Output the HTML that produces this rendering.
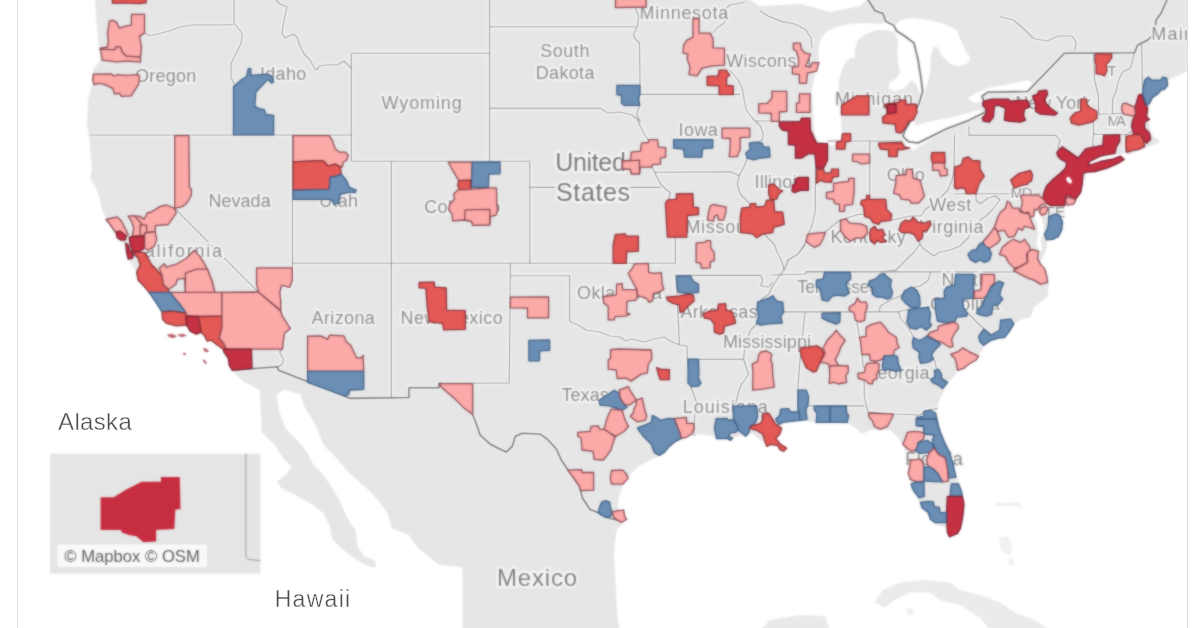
<!DOCTYPE html>
<html><head><meta charset="utf-8"><title>Map</title>
<style>
html,body{margin:0;padding:0;background:#fff;}
body{width:1200px;height:628px;overflow:hidden;position:relative;font-family:"Liberation Sans",sans-serif;}
svg{position:absolute;left:0;top:0;display:block}
#m{filter:url(#soft)}
.lb{font-family:"Liberation Sans",sans-serif;fill:#8a8a8a;stroke:#f6f6f6;stroke-width:3.6px;paint-order:stroke;stroke-linejoin:round}
.st{fill:none;stroke:#969696;stroke-width:1.15;stroke-linejoin:round}
.ib,.ib path{fill:none;stroke:#747474;stroke-width:1.6;stroke-linejoin:round}
.sc{fill:none;stroke:#f9f9f9;stroke-width:4;stroke-linejoin:round}
.r1{fill:#fbaaa8;stroke:#8c4c55}.r2{fill:#e45855;stroke:#8c3239}.r3{fill:#c53043;stroke:#7c2231}.b{fill:#6b8eb5;stroke:#406086}
.is{fill:#b04a5a;stroke:none;fill-opacity:.85}
.pg path{stroke-width:1.3;stroke-linejoin:round}
</style></head><body>
<svg width="1200" height="628" viewBox="0 0 1200 628">

<defs><filter id="soft" x="-10" y="-10" width="1220" height="648" filterUnits="userSpaceOnUse" color-interpolation-filters="sRGB"><feGaussianBlur in="SourceGraphic" stdDeviation="0.85" result="b"/><feComposite in="SourceGraphic" in2="b" operator="arithmetic" k1="0" k2="0.35" k3="0.65" k4="0"/></filter></defs>
<g id="m">
<rect x="17" y="-10" width="1170.5" height="648" fill="#e6e6e6"/>
<g fill="#fff">
<path d="M17,-5 95,-5 95,0 96,18 99,50 100,60 93,70 92,85 88,100 87,126 89,135 92,168 90,178 96,188 100,200 102,210 106,218 112,230 116,236 124,245 128,259 136.6,272 144,286 149,292.7 157,304 162,312 162.5,319 166,323 176,325.8 186.6,325 190,331 196,334 204,335 207,341 211,340 216,344 223,349 228,358 229,365 232,370.7 242.7,381.3 259.7,389.9 261.9,432.5 274.7,445.3 283.2,458 291.7,466.7 285.3,475.2 276.8,481.6 281,488 298,496.5 313,505 323.7,513.6 330,526.4 332.3,539.2 340.8,547.7 351.5,556.3 362,562.7 370.7,567 462.5,567 462.5,640 17,640Z"/>
<path d="M276.8,394 284,390 300.3,394 304.5,407 315,424 323.7,445 336.5,458 349,473 366.4,488 379,501 387.7,513.6 392,528.5 409,535 417.6,547.7 439,564.8 460,567 460,572 377,572 375,560.5 364.3,556.3 357.9,547.7 355.7,530.7 347.2,517.9 340.8,503 332.3,488 323.7,475.2 313,464.5 306.7,451.7 298,441 285.3,428.3 279,411Z"/>
<path d="M1190,70 1168,80 1164.5,90 1151,100 1148,114 1151,134 1161,142 1148,147 1131,154 1121,157 1101,164 1087.6,170.5 1084,180.6 1081,194 1075.7,200 1073.7,204 1067.7,205 1062.6,210 1062.6,222 1061.6,230 1058.6,236 1052.6,239 1046.6,240 1047.6,246 1044.6,254 1040.6,262 1044.6,268 1048,276 1049,283.6 1047.5,297 1034,307 1030.7,317 1020,320 1013.8,324 1008.8,332 1004.8,337 996.7,340 990.7,342 984.7,346 980.7,352 975.7,360 968.6,364 963.6,368 957.6,370 954.6,376 948.6,382 946.6,386 940.6,398 936.5,408 938.5,422 940.4,430 949.4,452 955.4,472 960.4,486 964.4,500 963.4,520 958.4,534.4 948.4,536.8 946.4,528.4 932.3,522.4 928.3,516.3 920.3,504.3 916.3,496.3 910.2,484.2 908.2,472.2 905.2,456 904.2,446 898.4,438 890.4,430 880,430 870,430 862,434 856,428 846,422.7 820,422.7 806,421.3 800,420 782,424 776,440 784,451 786.8,449 770.7,445 764.7,444 752.7,434 748.6,433 740.6,436 732.6,438 726.6,439 716.5,439 714.5,436 700,434 690,436 681,439 670,446 659,456 650.8,460 638.8,466 628.7,476 622.7,486 618.7,498 617.7,508 625.7,517 622.7,524 616.7,530 614.7,544 614,552 615.7,585 617,612 620.7,640 1190,640Z"/>
<path d="M820.1,40.1 826.1,32.1 836.1,27.1 850.2,24.1 864.2,23.1 880.3,24.1 888.3,22.1 894.3,26.1 894.3,32.1 886.3,30.1 876.3,30.1 866.2,34.1 858.2,40.1 855.2,48.2 854.2,58.2 851.2,57.2 847.2,60.2 842.5,68.2 839.5,78.3 838.5,88.3 839.5,100.3 840.5,112.4 841.5,128.4 843.1,140.5 840.1,144.5 830.1,145.5 822.1,143.5 816.1,138.5 814,128.4 813,112.4 812.4,100.3 812,90.3 814,80.3 816.1,68.2 819.1,60.2 818.1,50.2Z"/>
<path d="M894.3,26.1 900.3,20.1 912.4,18.1 928.4,20.1 944.5,24.1 956.5,30.1 960.5,40.1 966.6,52.2 970.6,58.2 966.6,64.2 958.5,66.2 950.5,64.2 944.5,58.2 940.5,54.2 938.5,48.2 934.4,46.2 931.4,52.2 930.4,60.2 930.4,70.2 928.4,80.3 925.4,90.3 922.4,100.3 919.4,108.4 916.4,116.4 913.4,120.4 911.4,116.4 915.4,108.4 918.4,104.3 919.4,92.3 916.4,84.3 912.4,80.3 909.4,82.3 904.3,88.3 894.3,91.3 888.3,88.3 890.3,82.3 896.3,78.3 900.3,72.2 898.3,64.2 897.3,52.2 898.3,40.1 894.3,32.1Z"/>
<path d="M902,134 906,128 920,124 936,120 950,118 964,114 980,110 984,113 976,118 960,124 950,129 940,134 930,140 920,146 914,150 908,148 904,142Z"/>
<path d="M910,120 915,121 914,128 910,129Z"/>
<path d="M968,98 976,93 988,88 1004,85 1020,82 1028.5,80 1032.5,84 1028.5,91 990,91 980,97 982,102 974,103Z"/>
<path d="M745,-5 750,0 760,6 780,5 800,4 820,9 830,12 840,10 850,8 860,6 866,0 866,-5Z"/>
<path d="M1037.5,210 1040.5,216 1043.5,224 1043.5,234 1040.5,240 1042.5,250 1038.5,251 1036.5,242 1038.5,234 1037.5,226 1034.5,218Z"/>
<path d="M1066,205 1068,200 1072,202 1070,207Z"/>
<path d="M1089.6,162.8 1100.3,157.5 1113.6,155 1120.3,154.1 1128,153 1124.3,157 1113.6,159.5 1100.3,162.5 1088.2,166.5Z"/>
</g>
<path d="M875,602.5 882.5,590 900,582.5 925,580 950,582.5 960,590 980,595 1000,602.5 1015,612.5 1035,620 1050,630 990,630 980,617.5 960,605 940,600 930,592.5 910,592.5 895,600 885,607.5Z" fill="#ebebeb"/><path d="M760,630 770,620 800,615 825,616 830,630Z" fill="#e9e9e9"/>
<path d="M1000,537.5 1007.5,536 1012.5,545 1010,555 1002.5,552.5 999,544Z" fill="#f0f0f0"/>
<path d="M1007.5,559 1013,558 1014,565 1009,565Z" fill="#f0f0f0"/>
<path d="M995,503 1020,502 1021,509 1017.5,506 995,506Z" fill="#f0f0f0"/>
<path d="M906,609 912.5,608 914,614 907,615Z" fill="#f0f0f0"/>
<g class="sc">
<path d="M144,33 150,35.5 160,33.5 172,30 180,27 192,25 220,25 233,24.5"/>
<path d="M234,-2 234,23 242.5,33.5 241,43.5 231,63.5 231,77 234,83.5 234,135"/>
<path d="M274,-2 280,4 287,7 285,16 283,26 282,34 285,38 293,34 297,37 300,46 304,54 310,60 315,69 317,70 319,66 326,65 338,64.6 344,61 349,66 351.4,68"/>
<path d="M89,135 351.4,135"/>
<path d="M351.4,53.2 489.6,53.2"/>
<path d="M351.4,53.2 351.4,161.2"/>
<path d="M351.4,161.2 529.7,161.2"/>
<path d="M489.6,-2 489.6,161.2"/>
<path d="M489.6,26.7 635.5,26.7"/>
<path d="M489.6,108.4 600.4,108.4 608,113 620,112 632,115 638,120 640,126 645.5,136 648.5,140 650,150 652.5,168 655.5,174 660.5,184 666.6,190 670.6,193 668.6,198 675.4,202 675.4,263"/>
<path d="M529.7,161.2 529.7,263.1"/>
<path d="M529.7,187.3 660.5,187.3"/>
<path d="M391.4,161.2 391.4,398"/>
<path d="M292.5,135 292.5,263.2"/>
<path d="M292.5,263.2 675.4,263.2"/>
<path d="M174.7,135 174.7,208.3 258.6,292.3 280.7,310.4"/>
<path d="M292.3,263 292.3,280 289.7,287 281.7,285 279.7,292 280.7,300 280.7,310 282.5,316 287.5,324 290.5,328.6 284.5,333 283.5,340 282.5,349 279.5,352 283.5,359 282.5,364 277.5,367"/>
<path d="M439,383.4 509.3,383"/>
<path d="M510.4,263 509.3,383"/>
<path d="M510.4,275.7 569.6,275.7 569.6,321.3 580,326 586,330 600,332 610,336 620,337 626,341 632,339 644,342 654,339 664,337 672,342 680,345 687,346 687.4,359.3 690.5,386 693.5,394 696.5,402 694.5,418 694,436"/>
<path d="M676,275.3 679.5,345"/>
<path d="M687.4,359.3 743.6,359.3"/>
<path d="M676,275.3 760.7,275.3 762.7,280 760.7,286 768.7,287 772.7,282"/>
<path d="M784,270 780.8,274 776.7,280 772.7,286 768.7,294 760.7,300 756.7,324 750.7,330 746.7,340 744.6,350 743.6,359 745.7,366 748.7,374 744.6,380 741.6,384 738.6,392 736.6,400 734.6,406 760,406 762,420 766,432"/>
<path d="M654.5,172.2 730.8,171.8 740,176"/>
<path d="M640,94.3 740,94.3"/>
<path d="M635.5,8 638.5,16 637.5,26 633.5,34 634.5,38 639.5,43 640,85 640,94.3 638.5,100 639.5,106 636.5,114 640.5,122"/>
<path d="M713,33 717,28 723,24 726,20 724,10 730,5 745,2"/>
<path d="M729.8,70 738.2,80 742.2,88 744.2,100 746.2,110 752.3,118 760.3,126 763.3,134 762.3,140 754.3,143 747.2,158 745.2,164 739.2,176 737.2,184 740.2,194 748.2,202 755,212 766,236 774,244 778,254 782,262 784,270"/>
<path d="M756,121 810.5,121"/>
<path d="M815.4,154 815.4,210 812.4,224 808.4,234 804.4,246 798.3,254 788.3,260 784.3,270 788,260 798,254 806,242 820,244 825,232 840,220 860,214 892.7,220 900.7,218 910.7,216 920.8,216 924.8,210 929.8,206 932,204 940,198 948,190 952,180 954,170 954.6,135"/>
<path d="M827.5,141 903,141"/>
<path d="M869.7,141 869.7,206"/>
<path d="M954.6,193.7 1040.5,193.7"/>
<path d="M969,126 969,135.3 1056,135.3 1060,140 1058,148 1064,156"/>
<path d="M976,200 980,204 988,198 996,196 1000,200 992,210 986,216 980,220 978,226 972,230 968,238 964,242 960,246 950,250 940,252 934,256 928,252 923,248 920,244 918,230 920,218"/>
<path d="M976,200 976,194"/>
<path d="M920,244 914,252 904,262 896,270 880,272"/>
<path d="M772,275 806,274 806,271.6 1047,272"/>
<path d="M757,311.8 898,311.8"/>
<path d="M930.5,272.4 928.5,280 920.5,286 910.4,288 900.4,296 890.4,300 880.3,306 879.3,311.8"/>
<path d="M805,312.6 802,340 800,360 797.7,390 798,420"/>
<path d="M855.3,312.6 858.3,330 860.3,340 862.3,356 863.3,370 864.3,386 864.3,396 866.3,406 868.3,412 893.4,414 920.5,415 924.5,411 930,410 938,408"/>
<path d="M808,405.8 864.3,405.8"/>
<path d="M898.4,311.8 900.4,318 908.4,328 913.5,337 920.5,344 928.5,354 934.5,360 936.5,369 942,384"/>
<path d="M898,311.8 910,309 930,307 945,308 955,313 967.6,313 972.7,318 980.7,326 990.7,334 996,340"/>
<path d="M1093.5,53 1094.5,80 1098.5,96 1098.5,114 1093.5,120 1093.5,134 1092.5,148 1086,152"/>
<path d="M1134.4,52.8 1130.6,68 1122.6,72 1118.6,80 1116.5,90 1112.5,100 1112.5,114"/>
<path d="M1141.6,44 1142.6,94 1146,100"/>
<path d="M1098.5,114 1112.5,114 1122.5,113 1132.6,116 1140,112"/>
<path d="M1093.5,134.3 1126.6,134.7 1132,131"/>
<path d="M1125.6,134.7 1125.6,152"/>
<path d="M1000,16.7 1013.4,20 1025,30 1033.4,38.5 1047,41 1058.5,36 1072,36 1076,41.8 1075.2,48.5 1073.5,51"/>
<path d="M760,10.7 768,16 781.4,21.4 794.8,24 805.5,29.4 810.8,37.5 812.2,48.2"/>
<path d="M232.3,370.3 277.5,366.7 278.5,370.3 350.7,398.4 409,397.5 409,387.7 439,387.7 439,383.4 445,384"/>
<path d="M472.6,414.5 477.2,426.2 480.2,435.2 490.2,444.2 500.3,449.3 506.3,451.9 512.3,446.3 515.3,436.2 522.3,433.2 532.4,433.8 540.4,434.2 548.4,440.2 556.5,449.3 561.5,460.3 567.5,469.3 574.5,479.4 579.5,486.4 580.5,490.6 582.5,498.2 586.6,504.2 589.6,509.2 597.6,512.6 605.6,517.3 617.7,520.3 621.7,522.3"/>
<path d="M867,-2 875,10.7 883,13.4 885.8,21.4 893.8,25.4 896.5,30.8 904.5,36 913.8,42.8 917.9,58.9 920.5,75 922.7,91 919.2,103 912.5,117.7 904.5,131 903,136.5 908.5,141.8 917.9,143 931.2,136.5 947.3,128.4 968.7,120.4 982,113.7 987.4,111 982,96.3 987.4,92.3 1027.6,91.5 1064.4,53.2 1134.4,52.8 1137.7,45 1147.8,40 1154.5,33.4 1156,20 1161,13.4 1167.8,-2"/>
</g>
<g class="st">
<path d="M144,33 150,35.5 160,33.5 172,30 180,27 192,25 220,25 233,24.5"/>
<path d="M234,-2 234,23 242.5,33.5 241,43.5 231,63.5 231,77 234,83.5 234,135"/>
<path d="M274,-2 280,4 287,7 285,16 283,26 282,34 285,38 293,34 297,37 300,46 304,54 310,60 315,69 317,70 319,66 326,65 338,64.6 344,61 349,66 351.4,68"/>
<path d="M89,135 351.4,135"/>
<path d="M351.4,53.2 489.6,53.2"/>
<path d="M351.4,53.2 351.4,161.2"/>
<path d="M351.4,161.2 529.7,161.2"/>
<path d="M489.6,-2 489.6,161.2"/>
<path d="M489.6,26.7 635.5,26.7"/>
<path d="M489.6,108.4 600.4,108.4 608,113 620,112 632,115 638,120 640,126 645.5,136 648.5,140 650,150 652.5,168 655.5,174 660.5,184 666.6,190 670.6,193 668.6,198 675.4,202 675.4,263"/>
<path d="M529.7,161.2 529.7,263.1"/>
<path d="M529.7,187.3 660.5,187.3"/>
<path d="M391.4,161.2 391.4,398"/>
<path d="M292.5,135 292.5,263.2"/>
<path d="M292.5,263.2 675.4,263.2"/>
<path d="M174.7,135 174.7,208.3 258.6,292.3 280.7,310.4"/>
<path d="M292.3,263 292.3,280 289.7,287 281.7,285 279.7,292 280.7,300 280.7,310 282.5,316 287.5,324 290.5,328.6 284.5,333 283.5,340 282.5,349 279.5,352 283.5,359 282.5,364 277.5,367"/>
<path d="M439,383.4 509.3,383"/>
<path d="M510.4,263 509.3,383"/>
<path d="M510.4,275.7 569.6,275.7 569.6,321.3 580,326 586,330 600,332 610,336 620,337 626,341 632,339 644,342 654,339 664,337 672,342 680,345 687,346 687.4,359.3 690.5,386 693.5,394 696.5,402 694.5,418 694,436"/>
<path d="M676,275.3 679.5,345"/>
<path d="M687.4,359.3 743.6,359.3"/>
<path d="M676,275.3 760.7,275.3 762.7,280 760.7,286 768.7,287 772.7,282"/>
<path d="M784,270 780.8,274 776.7,280 772.7,286 768.7,294 760.7,300 756.7,324 750.7,330 746.7,340 744.6,350 743.6,359 745.7,366 748.7,374 744.6,380 741.6,384 738.6,392 736.6,400 734.6,406 760,406 762,420 766,432"/>
<path d="M654.5,172.2 730.8,171.8 740,176"/>
<path d="M640,94.3 740,94.3"/>
<path d="M635.5,8 638.5,16 637.5,26 633.5,34 634.5,38 639.5,43 640,85 640,94.3 638.5,100 639.5,106 636.5,114 640.5,122"/>
<path d="M713,33 717,28 723,24 726,20 724,10 730,5 745,2"/>
<path d="M729.8,70 738.2,80 742.2,88 744.2,100 746.2,110 752.3,118 760.3,126 763.3,134 762.3,140 754.3,143 747.2,158 745.2,164 739.2,176 737.2,184 740.2,194 748.2,202 755,212 766,236 774,244 778,254 782,262 784,270"/>
<path d="M756,121 810.5,121"/>
<path d="M815.4,154 815.4,210 812.4,224 808.4,234 804.4,246 798.3,254 788.3,260 784.3,270 788,260 798,254 806,242 820,244 825,232 840,220 860,214 892.7,220 900.7,218 910.7,216 920.8,216 924.8,210 929.8,206 932,204 940,198 948,190 952,180 954,170 954.6,135"/>
<path d="M827.5,141 903,141"/>
<path d="M869.7,141 869.7,206"/>
<path d="M954.6,193.7 1040.5,193.7"/>
<path d="M969,126 969,135.3 1056,135.3 1060,140 1058,148 1064,156"/>
<path d="M976,200 980,204 988,198 996,196 1000,200 992,210 986,216 980,220 978,226 972,230 968,238 964,242 960,246 950,250 940,252 934,256 928,252 923,248 920,244 918,230 920,218"/>
<path d="M976,200 976,194"/>
<path d="M920,244 914,252 904,262 896,270 880,272"/>
<path d="M772,275 806,274 806,271.6 1047,272"/>
<path d="M757,311.8 898,311.8"/>
<path d="M930.5,272.4 928.5,280 920.5,286 910.4,288 900.4,296 890.4,300 880.3,306 879.3,311.8"/>
<path d="M805,312.6 802,340 800,360 797.7,390 798,420"/>
<path d="M855.3,312.6 858.3,330 860.3,340 862.3,356 863.3,370 864.3,386 864.3,396 866.3,406 868.3,412 893.4,414 920.5,415 924.5,411 930,410 938,408"/>
<path d="M808,405.8 864.3,405.8"/>
<path d="M898.4,311.8 900.4,318 908.4,328 913.5,337 920.5,344 928.5,354 934.5,360 936.5,369 942,384"/>
<path d="M898,311.8 910,309 930,307 945,308 955,313 967.6,313 972.7,318 980.7,326 990.7,334 996,340"/>
<path d="M1093.5,53 1094.5,80 1098.5,96 1098.5,114 1093.5,120 1093.5,134 1092.5,148 1086,152"/>
<path d="M1134.4,52.8 1130.6,68 1122.6,72 1118.6,80 1116.5,90 1112.5,100 1112.5,114"/>
<path d="M1141.6,44 1142.6,94 1146,100"/>
<path d="M1098.5,114 1112.5,114 1122.5,113 1132.6,116 1140,112"/>
<path d="M1093.5,134.3 1126.6,134.7 1132,131"/>
<path d="M1125.6,134.7 1125.6,152"/>
<path d="M1000,16.7 1013.4,20 1025,30 1033.4,38.5 1047,41 1058.5,36 1072,36 1076,41.8 1075.2,48.5 1073.5,51"/>
<path d="M760,10.7 768,16 781.4,21.4 794.8,24 805.5,29.4 810.8,37.5 812.2,48.2"/>
</g>
<g class="ib">
<path d="M232.3,370.3 277.5,366.7 278.5,370.3 350.7,398.4 409,397.5 409,387.7 439,387.7 439,383.4 445,384"/>
<path d="M472.6,414.5 477.2,426.2 480.2,435.2 490.2,444.2 500.3,449.3 506.3,451.9 512.3,446.3 515.3,436.2 522.3,433.2 532.4,433.8 540.4,434.2 548.4,440.2 556.5,449.3 561.5,460.3 567.5,469.3 574.5,479.4 579.5,486.4 580.5,490.6 582.5,498.2 586.6,504.2 589.6,509.2 597.6,512.6 605.6,517.3 617.7,520.3 621.7,522.3"/>
<path d="M867,-2 875,10.7 883,13.4 885.8,21.4 893.8,25.4 896.5,30.8 904.5,36 913.8,42.8 917.9,58.9 920.5,75 922.7,91 919.2,103 912.5,117.7 904.5,131 903,136.5 908.5,141.8 917.9,143 931.2,136.5 947.3,128.4 968.7,120.4 982,113.7 987.4,111 982,96.3 987.4,92.3 1027.6,91.5 1064.4,53.2 1134.4,52.8 1137.7,45 1147.8,40 1154.5,33.4 1156,20 1161,13.4 1167.8,-2"/>
</g>
<g class="lb">
<text x="134.9" y="82.3" font-size="18" textLength="61.4" lengthAdjust="spacing">Oregon</text>
<text x="260" y="80.3" font-size="18" textLength="46.2" lengthAdjust="spacing">Idaho</text>
<text x="381.5" y="109.4" font-size="18" textLength="80.3" lengthAdjust="spacing">Wyoming</text>
<text x="540.2" y="56.6" font-size="18" textLength="49.2" lengthAdjust="spacing">South</text>
<text x="535.8" y="78.9" font-size="18" textLength="58.6" lengthAdjust="spacing">Dakota</text>
<text x="639.6" y="18.5" font-size="18" textLength="88.6" lengthAdjust="spacing">Minnesota</text>
<text x="726.2" y="67.2" font-size="18" textLength="85" lengthAdjust="spacing">Wisconsin</text>
<text x="834.9" y="104.9" font-size="18" textLength="78.1" lengthAdjust="spacing">Michigan</text>
<text x="1015.2" y="109.2" font-size="18" textLength="76" lengthAdjust="spacing">New York</text>
<text x="1107.5" y="125.8" font-size="15" textLength="18.5" lengthAdjust="spacing">MA</text>
<text x="1098" y="76" font-size="15" textLength="18.5" lengthAdjust="spacing">VT</text>
<text x="1151.3" y="40.1" font-size="18" textLength="54" lengthAdjust="spacing">Maine</text>
<text x="678.6" y="135.7" font-size="18" textLength="39.2" lengthAdjust="spacing">Iowa</text>
<text x="754.6" y="187.7" font-size="18" textLength="51" lengthAdjust="spacing">Illinois</text>
<text x="886.7" y="180.5" font-size="18" textLength="38.1" lengthAdjust="spacing">Ohio</text>
<text x="685.4" y="232.6" font-size="18" textLength="72" lengthAdjust="spacing">Missouri</text>
<text x="830.5" y="243.3" font-size="18" textLength="75.2" lengthAdjust="spacing">Kentucky</text>
<text x="929.2" y="211.2" font-size="18" textLength="42.1" lengthAdjust="spacing">West</text>
<text x="920" y="233.3" font-size="18" textLength="63.4" lengthAdjust="spacing">Virginia</text>
<text x="1010.5" y="198.2" font-size="15" textLength="22" lengthAdjust="spacing">MD</text>
<text x="1047" y="217" font-size="15" textLength="18" lengthAdjust="spacing">DE</text>
<text x="208.4" y="206.7" font-size="18" textLength="62.3" lengthAdjust="spacing">Nevada</text>
<text x="319.2" y="206.7" font-size="18" textLength="38.7" lengthAdjust="spacing">Utah</text>
<text x="424.2" y="213.4" font-size="18" textLength="76" lengthAdjust="spacing">Colorado</text>
<text x="130" y="256.6" font-size="18" textLength="92.1" lengthAdjust="spacing">California</text>
<text x="311.6" y="324.2" font-size="18" textLength="63.2" lengthAdjust="spacing">Arizona</text>
<text x="400.5" y="323.9" font-size="18" textLength="102.3" lengthAdjust="spacing">New Mexico</text>
<text x="577" y="299.1" font-size="18" textLength="85" lengthAdjust="spacing">Oklahoma</text>
<text x="680.4" y="317.8" font-size="18" textLength="77.3" lengthAdjust="spacing">Arkansas</text>
<text x="723" y="347.9" font-size="18" textLength="88" lengthAdjust="spacing">Mississippi</text>
<text x="797" y="293.1" font-size="18" textLength="82" lengthAdjust="spacing">Tennessee</text>
<text x="941.6" y="286" font-size="18" textLength="47" lengthAdjust="spacing">North</text>
<text x="930.1" y="310.2" font-size="18" textLength="69.7" lengthAdjust="spacing">Carolina</text>
<text x="863" y="379.1" font-size="18" textLength="66.5" lengthAdjust="spacing">Georgia</text>
<text x="561.5" y="400.5" font-size="18" textLength="47.2" lengthAdjust="spacing">Texas</text>
<text x="682.8" y="413.3" font-size="18" textLength="85" lengthAdjust="spacing">Louisiana</text>
<text x="905.2" y="464.6" font-size="18" textLength="57.6" lengthAdjust="spacing">Florida</text>
<text x="555.3" y="170.6" font-size="25" textLength="70.5" lengthAdjust="spacing" style="fill:#787878;stroke-width:4.6px">United</text>
<text x="556" y="200.7" font-size="25" textLength="74" lengthAdjust="spacing" style="fill:#787878;stroke-width:4.6px">States</text>
<text x="497" y="586.2" font-size="24" textLength="80.2" lengthAdjust="spacing" style="fill:#808080;stroke-width:4.6px">Mexico</text>
</g>
<g class="pg">
<path class="r2" d="M112.4,-2 146.1,-2 146.1,2.8 138.5,3.6 128.4,3.2 112.4,3.2Z"/>
<path class="r1" d="M131.4,14.4 144.5,14.4 144.5,33.1 139.5,36.1 141.5,47.2 140.5,57.2 126.4,56.2 122.4,52.6 120.4,47.2 116.4,46.6 114.8,49.8 100.3,49.2 100.3,48.2 107.4,47.2 108.4,40.1 107.4,34.1 109.4,21.1 112.4,20.1 116.4,22.1 119.4,28.1 125.4,26.1 131.4,25.1Z"/>
<path class="r1" d="M100.3,49.2 114.8,49.8 116.4,46.6 120.4,47.2 122.4,52.6 126.4,56.2 140.5,57.2 140.5,62.2 128.4,61.2 116.4,61.8 102.3,60.2 101.3,53.2Z"/>
<path class="r1" d="M93.3,74.2 111.4,73.8 113.4,75.9 118.4,74.6 124.4,75.3 138.5,74.6 139.5,77.3 138.5,84.3 133.4,92.3 131.4,95.9 121.4,96.3 119.4,93.3 114.4,93.9 112.8,88.3 104.3,84.3 99.3,83.3 94.3,84.7 92.7,80.3Z"/>
<path class="b" d="M233.4,87 240.8,80.3 246.8,76.3 248.2,68.6 250.8,68.6 250.8,75.3 267.6,74.2 271.6,76.3 273.6,81.9 271.6,82.9 267.6,79.6 255.9,92 254.8,106.4 259.2,108.7 264.2,109.7 265.9,114.4 273.6,115.4 273.6,134.8 233.4,134.8Z"/>
<path class="r1" d="M615.5,-2 646.2,-2 646.2,7 615.5,7.6Z"/>
<path class="b" d="M616.9,85.3 639.9,85.3 639.9,94.3 638.5,98.3 639.9,105.4 624.5,105.4 621.5,103.3 621.5,95.3 616.9,94.7Z"/>
<path class="r1" d="M693,18.5 699.1,18.5 699.1,33.1 710.1,33.1 713.1,39.1 713.1,47.8 724.5,48.2 724.5,65.2 713.1,65.8 702.1,68.2 697.1,75.9 689,74.6 690,67.2 687,58.2 688,54.2 683,53.2 683.6,45.2 687,40.1 693,37.1Z"/>
<path class="r2" d="M707.1,76.3 718.1,75.9 719.1,70.2 726.2,70.2 729.8,75.3 726.6,77.3 726.6,85.3 733.2,85.9 733.2,94.7 719.1,94.7 719.1,85.9 707.1,85.3Z"/>
<path class="r1" d="M793.4,43.1 800.4,43.1 801.4,49.2 805.4,53.2 810.4,54.2 808.4,60.2 805.4,66.2 810.4,67.2 812.4,62.6 818.9,62.6 816.5,71.2 807.4,73.2 806.4,83.3 799.4,83.3 799.4,74.6 792.4,73.8 792.4,67.2 798.4,66.2 798.4,58.2 796.4,51.2 793.4,49.2Z"/>
<path class="r1" d="M771.9,91.3 786.8,91.3 786.8,111.4 779.3,112 779.3,121.4 771.3,121.4 771.3,113.4 758.7,112.8 758.7,103.9 767.3,103.3 771.9,98.3Z"/>
<path class="r1" d="M799.4,93.9 810,93.9 810,112.4 796.4,112.4 796.4,103.3 799.4,102.3Z"/>
<path class="r2" d="M841.5,105.4 854.6,97.3 856.6,95.9 869,95.9 869,114.8 841.5,114.8Z"/>
<path class="r3" d="M779.3,122.1 800.4,121.7 801.4,118.1 810,118.1 810.4,130.1 816.5,143.1 827.5,143.7 827.5,160.2 823.5,168.2 816.5,168.2 814.8,153.8 808.4,153.8 801.4,158.2 795.4,158.2 795.4,145.2 788.4,144.5 788.4,131.1 782.3,130.1 779.3,126.1Z"/>
<path class="r2" d="M816.5,169.2 823.5,169.2 824.5,173.2 831.5,172.6 831.5,169.2 838.5,169.2 838.5,176.3 832.5,177.3 831.5,182.3 824.5,181.9 820.5,180.3 816.5,183.3Z"/>
<path class="r2" d="M842.5,133.7 850.6,133.7 850.6,141.1 845.6,142.1 844.9,149.2 836.5,149.2 836.5,142.1 841.5,141.1Z"/>
<path class="r1" d="M852.6,154.2 869.6,154.2 869.6,163.2 860.6,163.8 857.6,161.8 852.6,161.2Z"/>
<path class="r2" d="M878.7,143.1 901.7,142.5 904.7,147.2 909.8,147.8 900.7,149.8 897.7,149.2 897.1,156.6 888.7,156.6 888.7,149.8 880.7,149.2 878.7,145.2Z"/>
<path class="r1" d="M848.6,178.3 854.2,178.3 854.2,191.3 852.6,204.3 844.5,205.4 844.5,211.4 839.5,211.4 839.5,204.3 834.5,203.3 833.5,199.3 826.5,198.3 826.5,192.3 833.5,191.3 833.5,183.3 840.5,182.3 848.6,181.3Z"/>
<path class="r2" d="M866.6,195.3 869.6,195.3 869.6,199.3 885.7,199.3 886.7,209.4 891.7,214.4 890.7,220.4 880.7,221.4 878.7,224.4 872.6,222.4 870.6,218.4 864.6,216.4 863.6,206.4 860.6,204.3 861.6,200.3 866.6,199.3Z"/>
<path class="r3" d="M795.4,179.3 798.4,177.3 808.4,177.3 808.4,190.3 800.4,190.3 794.4,192.7 792,191.3 792.4,185.3 795.4,183.3Z"/>
<path class="r1" d="M722.1,128.1 749.8,128.1 749.8,137.1 740.2,137.7 740.2,149.2 737.2,156.6 729.2,156.6 730.2,146.2 730.2,138.5 722.1,138.1Z"/>
<path class="b" d="M749.2,143.1 755.3,142.1 762.3,143.1 763.3,147.2 769.3,147.2 769.9,157.2 759.3,158.2 754.2,159.8 747.2,158.2 745.8,153.2 750.2,149.2Z"/>
<path class="r2" d="M884,105.2 887,104.1 899.1,102.1 900.1,100.1 906.1,100.1 906.1,104.5 916.1,104.1 917.1,112.2 913.1,120.2 909.1,121.2 905.1,128.2 901.1,133.2 896.1,132.2 895.1,124.2 883,123.2 882.4,117.2 887,114.2 887,108.2Z"/>
<path class="r3" d="M887,104.5 896.1,104.1 896.1,112.6 887.6,113.8Z"/>
<path class="r2" d="M931.8,152.7 944.6,152.3 945.2,162.7 932.6,163.3 931.2,158.3Z"/>
<path class="r1" d="M932.6,163.3 939.2,162.7 944.6,163.3 944.6,168.4 947.2,169.4 947.2,175.4 940.2,176 939.2,170.4 932.6,170.4Z"/>
<path class="r3" d="M983.3,101.1 992.4,99.1 1008.4,99.1 1010.4,101.1 1027.5,100.1 1029.5,107.2 1024.5,109.2 1023.5,115.2 1025.5,120.2 1020.5,122.2 1008.4,121.2 1004.4,120.2 1005.4,108.2 998.4,105.2 994.4,106.2 993.4,117.2 989.4,122.2 983.3,121.2 982.3,118.2 986.4,113.2 985.4,108.2 982.7,105.2Z"/>
<path class="r3" d="M1038.5,91.1 1046.6,90.1 1047.6,94.1 1044.5,100.1 1046.6,104.1 1050.6,108.2 1057.6,113.2 1054.6,115.2 1040.5,114.2 1035.5,111.2 1035.5,104.1 1033.5,99.1 1032.5,96.1 1037.5,94.1Z"/>
<path class="r2" d="M1080.7,99.1 1086.7,99.1 1086.7,104.1 1089.7,107.2 1096.7,111.2 1097.1,118.2 1091.7,122.2 1078.7,125.2 1071.6,123.2 1070.2,118.2 1074.6,113.2 1080.7,111.2Z"/>
<path class="r2" d="M1095.3,53.8 1111.7,53.8 1111.7,57.7 1108.7,62 1106.2,64.4 1107,70.2 1104.5,76 1101.2,74.4 1096.1,73.6 1096.1,65.2 1095,60.2Z"/>
<path class="r3" d="M1138.6,95.1 1141.6,94.1 1144.6,103.1 1147.6,108.2 1146.6,117.2 1149.6,119.2 1144.6,122.2 1144.6,128.2 1149.6,133.2 1150.6,139.3 1146.6,143.3 1143.6,140.3 1140.6,134.2 1133.6,134.2 1131.6,126.2 1132.6,120.2 1135.6,114.2 1134.6,108.2 1136.6,102.1Z"/>
<path class="r1" d="M1122.5,104.1 1125.6,103.1 1134.6,107.2 1135.6,114.2 1132.6,116.2 1123.5,114.2 1121.5,109.2Z"/>
<path class="r2" d="M1126.6,136.3 1133.6,134.6 1140.6,134.6 1143.6,140.3 1144.6,146.3 1138.6,149.3 1132.6,150.3 1127,152.3 1125.6,144.3Z"/>
<path class="b" d="M1144.6,80.1 1148.6,77.1 1151.6,80.1 1160.7,80.1 1162.7,77.1 1166.7,78.1 1167.7,85.1 1164.7,89.1 1160.7,90.1 1157.7,94.1 1152.6,97.1 1149.6,103.1 1146.6,105.2 1143.6,97.1 1142.6,92.1 1143.6,86.1Z"/>
<path class="r3" d="M1056.8,152.1 1062.1,146.8 1066.8,150.1 1078.2,158.1 1085.6,148.8 1092.2,147.4 1102.9,145.4 1103.6,135.4 1119.7,134.7 1119.7,141.4 1116.3,146.8 1115,153.4 1105.6,154.8 1100.3,156.1 1089.6,161.5 1088.2,165.5 1100.3,161.5 1113.6,158.8 1120.3,156.1 1124.3,159.5 1119,162.8 1107,168.2 1094.9,171.5 1086.9,172.2 1082.9,173.5 1082.2,184.2 1080.7,192.1 1075.7,199.2 1072.7,198.3 1068.7,195.2 1065.5,196.9 1064.8,205.6 1050.6,205.6 1046.6,203.2 1042.6,198.3 1044.1,192.2 1046.8,185.6 1053.4,178.9 1060.1,173.5 1065.5,168.2 1066.8,162.8 1060.1,158.8 1057.5,155.5Z"/>
<path class="r1" d="M896.1,175.7 906.1,174.5 906.1,169.7 912.1,169.1 913.1,178.1 920.1,180.1 922.1,188.1 924.5,196.2 918.5,203.2 911.1,203.2 909.7,200.2 901.1,199.2 899.7,195.2 893.6,193.1 895.7,184.1Z"/>
<path class="r2" d="M954.6,167.1 961.3,165.1 963.3,158.4 968.3,157 972.3,160.4 979.9,161 979.9,169.1 984.3,176.1 979.3,183.1 977.3,189.1 975.9,193.7 966.3,193.7 965.3,189.1 961.3,187.7 957.3,189.1 954.6,187.7Z"/>
<path class="r2" d="M1010.8,180.1 1018.5,173.7 1030.5,170.5 1032.5,175.1 1031.5,181.1 1028.5,182.1 1027.5,184.1 1020.5,185.7 1014.4,188.1 1012.4,184.1Z"/>
<path class="r1" d="M1066.6,197.2 1072.6,198.2 1075.7,200.2 1073.6,204.2 1067.6,205.2 1065.6,201.2Z"/>
<path class="r1" d="M1020.5,195.2 1038.5,195.2 1042.5,198.2 1046.6,203.2 1040.5,205.2 1037.5,210.2 1034.5,209.2 1033.5,216.2 1029.5,217.2 1028.5,212.2 1024.5,213.2 1020.5,210.2 1022.5,202.2Z"/>
<path class="r1" d="M1007.4,201.2 1010.4,203.2 1012.4,208.2 1018.5,208.2 1020.5,212.2 1024.5,213.2 1029.5,214.2 1030.5,219.2 1033.5,226.3 1034.5,229.3 1029.5,227.3 1024.5,226.3 1022.5,230.3 1018.5,228.3 1014.4,236.3 1008.4,237.3 1004.4,230.3 997.4,231.3 994.4,227.3 997.4,218.2 1000.4,212.2 1005.4,208.2Z"/>
<path class="r1" d="M1040.5,208.2 1045.6,206.2 1048.2,208.2 1045.6,214.2 1041.5,215.2 1039.5,212.2Z"/>
<path class="r1" d="M994.4,227.3 997.4,231.3 1000.4,239.3 997.4,243.3 989.4,248.3 984.3,246.3 983.3,241.3 989.4,234.3Z"/>
<path class="r1" d="M1008.4,242.3 1013.4,239.3 1020.5,242.3 1024.5,239.3 1029.5,246.3 1030.5,250.3 1026.5,254.3 1027.5,262.4 1020.5,266.4 1014.4,268.4 1008.4,262.4 1005.4,256.4 999.4,254.3 1002.4,247.3Z"/>
<path class="r1" d="M1027.5,252.3 1032.5,249.3 1038.5,251.3 1037.5,258.4 1040.5,264.4 1044.5,268.4 1046.6,276 1047.6,282.4 1040.5,284.4 1034.5,280.4 1028.5,278.4 1020.5,274.4 1013.4,270.4 1020.5,266.4 1027.5,262.4Z"/>
<path class="b" d="M1048.6,217.2 1054.6,214.2 1059.6,215.2 1062.6,222.2 1061.6,230.3 1058.6,236.3 1052.6,239.3 1046.6,239.9 1044.5,234.3 1047.6,228.3 1048.6,222.2Z"/>
<path class="b" d="M979.3,244.3 982.3,242.3 985.4,246.3 989.4,248.7 991.4,254.3 989.4,260.4 984.3,262.4 980.3,260 975.3,262.4 970.3,259.4 967.9,254.3 972.3,250.3 976.3,249.3Z"/>
<path class="r2" d="M901.1,223.2 905.1,220.2 910.1,221.2 913.1,217.2 918.1,222.2 925.2,223.2 929.2,221.2 931.2,224.2 927.2,230.3 923.1,231.3 922.1,238.3 918.1,241.3 914.1,234.3 908.1,232.3 902.1,232.7 899.1,230.3Z"/>
<path class="r1" d="M840.5,220.2 846.5,219.2 849.5,223.2 860.5,223.8 866.6,226.3 867.6,233.3 862.5,238.3 856.5,237.9 850.5,241.3 844.5,236.3 840.5,230.3Z"/>
<path class="r2" d="M870.6,229.3 874.6,226.3 877.6,230.3 882.6,229.3 884.6,234.3 882.6,238.3 886.6,241.3 880.6,242.3 876.6,240.3 874.6,244.3 870.6,240.3 869.6,234.3Z"/>
<path class="r1" d="M807.4,234.3 814.4,233.3 825.4,232.3 823.4,238.3 820.4,244.3 814.4,247.3 809.4,244.3 806,241.3Z"/>
<path class="r1" d="M648.5,139.7 657.5,139.7 658.5,147.1 665.6,147.7 665.6,157.2 660.5,158.2 660.5,164.2 652.5,164.6 651.5,167.2 640.5,167.2 639.5,173.8 631.4,173.8 630.4,169.2 622.4,169.2 622,161.2 630.4,160.2 631.4,152.1 640.5,151.1 641.5,143.1 648.5,142.5Z"/>
<path class="r1" d="M622.4,161.2 639.5,160.2 639.5,173.8 631.4,173.8 630.4,169.2 622.4,169.2Z"/>
<path class="b" d="M673.6,139.7 712.7,139.7 712.7,148.1 702.7,148.5 701.7,157.2 684.6,157.2 683.6,149.1 673.6,148.1Z"/>
<path class="r1" d="M293.1,135.7 329.2,135.7 332.2,140.1 335.3,149.1 339.3,152.1 345.3,152.1 348.3,155.2 346.7,160.2 343.3,162.2 342.3,167.2 339.3,166.2 335.3,164.2 328.2,166.2 323.8,161.2 320.2,160.6 293.1,161.8Z"/>
<path class="r2" d="M293.1,161.8 320.2,160.6 323.8,161.2 328.2,166.2 335.3,164.2 340.3,167.2 341.3,174.2 336.3,176.2 330.2,177.2 329.2,189.3 293.1,190.3Z"/>
<path class="b" d="M330.2,177.2 336.3,176.2 341.3,174.2 346.3,180.2 349.3,187.3 356.3,190.3 355.3,192.3 348.3,192.3 340.3,194.3 338.3,203.3 334.2,204.3 331.2,199.3 293.1,199.3 293.1,190.3 329.2,189.3Z"/>
<path class="r1" d="M448.2,162.2 472.3,162.2 471.7,180.2 458.7,180.6 452.6,170.2Z"/>
<path class="b" d="M472.3,162.2 500,161.8 500,173.8 488.8,174.2 488.4,187.3 470.7,187.3 471.7,180.2Z"/>
<path class="r2" d="M458.7,180.6 470.7,180.2 470.7,189.3 459.7,189.9 457.7,185.3Z"/>
<path class="r1" d="M457.7,189.9 470.7,189.3 488.4,187.9 496.4,187.9 496.8,204.3 497.8,210.3 495.8,215.4 490.4,216.4 489.8,224.8 472.7,225.4 471.7,221.4 464.7,220 452.6,220.8 452.2,214.3 448.6,209.3 449.6,204.3 454.6,199.3 453.6,194.3Z"/>
<path class="r1" d="M465.1,209.9 489.8,209.3 489.8,224.8 472.7,225.4 471.7,221.4 464.7,220Z"/>
<path class="r1" d="M174.7,135.7 188.8,135.7 189.4,187.2 191.4,189.2 191.4,195.3 187.4,202.3 182.3,206.7 174.7,208.3Z"/>
<path class="r1" d="M174.7,208.4 176.3,213 171.3,220.1 168.3,224.5 155.3,225.7 155.3,231.7 146.2,232.5 142.2,225.1 134.6,216.1 139.2,216.1 144.2,219.1 147.2,213 151.2,212 160.3,206.4 166.3,205Z"/>
<path class="r1" d="M128.2,216.1 134.6,215.7 142.2,224.5 140.2,225.7 142.2,232.5 140.2,235.7 132.2,236.5 133.8,228.5 131.8,221.7Z"/>
<path class="r1" d="M106.1,219.5 117.1,216.9 121.1,220.5 125.2,228.5 128.2,234.5 125.2,236.5 119.1,232.5 115.1,231.5 110.1,224.5Z"/>
<path class="r1" d="M140.2,225.1 146.6,225.1 146.6,232.5 144.6,233.1 143.8,235.7 140.2,235.7Z"/>
<path class="r3" d="M116.1,232.1 120.1,231.1 126.2,236.1 125.2,240.1 121.1,240.1 117.1,237.7Z"/>
<path class="r3" d="M129.2,237.1 143.8,235.7 144.6,248.2 138.2,252.2 132.6,251.2 130.2,245.2Z"/>
<path class="r3" d="M125.8,243.1 128.2,245.2 130.2,251.2 133.2,254.2 132.6,258.2 128.2,259.2 126.6,252.6Z"/>
<path class="r1" d="M144.6,233.1 155.3,231.7 156.7,240.1 154.2,246.2 148.2,250.2 144.6,248.2Z"/>
<path class="r2" d="M132.6,251.8 138.2,252.2 144.6,252.6 148.2,258.2 151.2,264.2 156.3,269.2 162.3,276.3 163.3,284.3 168.3,289.3 169.3,292.7 149.2,292.7 144.2,286.3 138.2,280.3 136.6,272.2 140.2,265.2 138.2,258.2Z"/>
<path class="r1" d="M159.3,268.2 164.3,263.8 166.3,267.2 176.3,264.2 186.4,258.2 194.4,250.2 200.4,257.2 207.4,269.2 212.4,282.3 214.8,292.3 185.4,292.7 184.7,278.3 177.3,279.3 175.9,284.3 170.3,288.3 168.3,289.3 163.3,284.3 162.3,276.3Z"/>
<path class="r1" d="M185.4,273.2 196.4,269.2 207.4,269.2 212.4,282.3 214.8,292.3 185.4,292.7Z"/>
<path class="r1" d="M256.6,267.8 292.3,267.8 292.3,280.3 289.7,287.3 281.7,285.3 279.7,292.3 280.7,300.3 280.7,310.4 258.6,292.3 256.6,284.3Z"/>
<path class="r1" d="M170.1,292.4 221.9,292.4 221.9,316.1 198.2,316.5 186.2,315.7 184.1,310.1 178.1,302.1 173.1,296.5Z"/>
<path class="b" d="M149,292.4 170.1,292.4 173.1,296.5 178.1,302.1 184.1,310.1 185.8,313.1 176.1,311.7 169.1,311.1 162.1,312.1 157.1,304.1 153,298.1Z"/>
<path class="r2" d="M162.1,312.1 169.1,311.1 176.1,311.7 185.8,313.1 186.2,316.1 186.6,325.2 176.1,325.8 166.1,323.1 162.5,319.1Z"/>
<path class="r3" d="M186.2,316.1 198.2,316.5 200.2,325.2 201.2,332.2 196.2,334.2 190.2,331.2 186.6,325.2Z"/>
<path class="r2" d="M198.2,316.5 221.9,316.1 221.9,328.2 219.3,338.2 224.3,344.2 226.3,348.2 223.3,349.2 216.3,344.2 211.2,340.2 207.2,341.2 204.2,335.2 201.2,332.2 200.2,325.2Z"/>
<path class="r1" d="M221.9,292.4 258.4,292 280.5,311.1 282.5,316.1 287.5,324.1 290.5,328.6 284.5,333.2 283.5,340.2 282.5,349.2 226.3,349.2 224.3,344.2 219.3,338.2 221.9,328.2Z"/>
<path class="r3" d="M223.3,349.2 251.4,349.2 252,368.3 232.3,370.3 229.3,365.3 228.3,358.3 223.9,352.2Z"/>
<path class="r1" d="M307.6,336.2 320.6,335.8 327.6,339.2 329.6,335.2 343.7,335.8 346.7,342.2 350.7,345.2 356.3,357.3 360.7,358.3 363.1,355.3 363.7,371.3 307.6,371.3Z"/>
<path class="b" d="M307.6,371.3 363.7,371.3 363.7,389.4 349.7,390 348.7,394.4 344.7,396 307.6,382.3Z"/>
<path class="is" d="M167.1,334.6 172.1,333.8 177.1,336.2 173.1,338.2 168.1,336.6Z"/>
<path class="is" d="M177.1,334.6 183.1,333.8 187.2,335.8 181.1,337.2Z"/>
<path class="is" d="M202.6,348.6 206.2,348.2 209.2,351.8 205.2,352.2Z"/>
<path class="is" d="M202.6,359.3 205.2,360.3 207.2,364.3 204.2,363.3Z"/>
<path class="is" d="M183.1,352.6 186.2,353.2 185.8,355.3 183.1,354.6Z"/>
<path class="r2" d="M419.1,282.5 434.2,282.1 434.6,287.2 446.2,287.8 446.6,310.2 465.3,310.6 465.3,329.3 443.8,329.9 442.6,323.3 429.2,321.9 427.2,306.2 425.8,288.2 419.1,287.8Z"/>
<path class="r1" d="M510.4,297.2 548.6,296.8 548.6,317.9 527.5,317.9 527.5,308.2 510.4,307.8Z"/>
<path class="b" d="M528.9,340.3 549.6,339.9 549.6,350.4 539.5,350.8 539.5,360.8 528.9,360.8Z"/>
<path class="r2" d="M667.4,200.1 676.4,199.1 676.4,194 692.8,193.6 693.4,207.1 698.5,207.7 698.5,214.5 687.4,215.7 686.8,237.2 667.4,237.2 666,213.1 665.4,203.1Z"/>
<path class="r2" d="M615.2,234.6 625.2,233.8 626.2,236.2 638.3,236.2 638.3,251.2 626.6,251.8 626.2,263.3 613.2,263.3 613.2,245.2Z"/>
<path class="r1" d="M710.5,205.7 713.5,204.5 726.2,207.1 725.6,213.1 723.5,220.1 718.5,220.1 717.5,215.1 714.5,216.1 713.5,221.1 707.5,220.1 708.5,212.1Z"/>
<path class="r1" d="M696.1,243.2 705.5,242.2 706.1,240.6 710.5,240.6 710.9,248.2 714.1,252.2 714.5,260.3 710.5,261.9 710.1,267.9 701.5,268.3 700.5,263.3 696.1,262.3Z"/>
<path class="r2" d="M741.6,208.1 749.6,207.1 750.6,203.7 755.7,203.7 755.7,207.1 764.7,206.1 766.7,200.1 773.7,200.1 774.7,211.7 782.7,212.1 784.3,224.1 779.7,225.8 773.7,227.2 772.7,232.6 762.7,234.2 756.7,237.8 752.6,233.8 740.6,232.6 740.2,218.1Z"/>
<path class="r2" d="M768.7,185 773.7,184 778.7,189 782.7,191 778.7,194 776.7,199.1 770.7,199.7 768.7,194Z"/>
<path class="r1" d="M634.6,263.9 648.3,263.3 648.7,272.3 653.3,273.3 661.3,272.7 662.3,284.3 663.9,289.4 658.3,292.4 653.3,293.4 652.7,300.4 649.3,302.4 646.3,298.4 637.3,295.4 636.7,289.4 631.2,279.3 628.2,273.3 632.2,268.3Z"/>
<path class="b" d="M676.4,275.9 690.4,275.9 693.4,281.3 698.5,284.3 698.5,292.4 688.4,293.4 678.4,292.4 676.8,284.3Z"/>
<path class="r1" d="M603.1,296.5 616.2,295.1 616.6,284.1 622.2,283.7 622.6,289.7 636.7,289.7 637.3,295.7 636.3,300.1 627.2,301.1 626.6,313.2 630.2,314.2 625.2,316.2 615.2,316.6 614.2,319.8 608.2,319.8 608.2,306.2 603.7,303.1Z"/>
<path class="r2" d="M666.4,297.1 678.4,296.1 688.4,294.1 693.4,295.1 694,301.1 688.4,305.8 683.4,311.2 680,312.6 679.4,305.2 672.4,303.1 667.4,300.1Z"/>
<path class="r2" d="M718.5,304.1 725.6,303.7 726.2,310.2 731.6,311.2 734.6,318.2 735.6,323.2 730.6,324.6 724.5,326.2 723.5,333.2 719.5,334.2 714.5,332.2 714.1,323.8 710.5,319.2 704.5,318.2 702.9,314.2 708.5,311.2 717.5,310.2Z"/>
<path class="b" d="M757.7,302.1 768.7,298.1 772.7,295.7 776.7,301.1 782.7,302.1 783.7,312.2 780.7,316.2 782.3,323.2 768.7,323.8 760.7,325.2 756.3,323.2 758.7,316.2 757.1,310.2Z"/>
<path class="r1" d="M610.6,349.6 618.2,349 651.3,350 651.9,359.1 648.3,364.1 647.3,373.1 641.3,374.1 631.2,381.1 626.2,378.1 617.2,378.5 616.2,370.1 608.2,369.1 608.2,360.1 610.6,358.1Z"/>
<path class="r2" d="M656.7,367.7 660.3,369.1 669.4,369.7 669.4,379.7 660.3,379.7 658.3,374.1Z"/>
<path class="b" d="M688,359.1 698.5,359.1 698.9,372.1 698.5,378.1 700.9,383.1 698.5,386.2 691.4,386.6 688,383.1Z"/>
<path class="r1" d="M760.7,352 766.7,351 771.7,354 770.7,360.1 772.3,364.1 772.7,374.1 774.3,387.2 762.7,389.2 752.6,390.2 753,372.1 752.2,364.1 757.7,361.1 758.7,355.1Z"/>
<path class="b" d="M599.1,400.2 608.2,394.2 614.2,390.2 619.2,393.2 620.2,398.2 624.2,404.2 627.2,407.2 622.2,410.2 616.2,408.2 609.2,405.8 600.1,405.2Z"/>
<path class="r1" d="M619.2,390.2 628.2,386.6 631.2,392.2 636.3,400.2 629.2,405.2 624.2,404.2 620.2,398.2Z"/>
<path class="r1" d="M636.3,400.2 642.3,398.2 644.3,408.2 646.7,416.3 645.3,420.3 637.3,421.9 630.2,416.3 633.2,413.2 634.2,408.2 636.3,405.2Z"/>
<path class="r1" d="M611.2,409.2 622.2,410.2 624.2,417.3 626.2,422.3 628.6,426.3 624.2,431.3 616.2,436.3 610.2,433.3 604.1,429.3 605.8,422.3 608.2,415.3Z"/>
<path class="r1" d="M577.7,432.3 590.1,431.3 591.1,426.3 598.1,425.9 600.1,429.3 604.1,429.3 610.2,433.3 615.2,437.3 613.2,442.3 611.2,449.4 607.2,455.4 603.1,460 594.1,459.4 593.1,451.4 582.1,450 581.1,438.3 577.7,436.3Z"/>
<path class="b" d="M637.3,427.9 644.3,425.3 651.3,422.3 652.3,415.3 656.3,417.3 660.3,420.3 668.4,418.3 674.4,418.7 677.4,426.3 680.4,434.3 681.4,438.3 675.4,441.3 669.4,446.4 664.3,452.4 659.3,455.4 654.3,452.4 651.3,444.3 644.3,437.3 640.3,432.3Z"/>
<path class="r1" d="M674.4,418.7 686.4,417.3 686.8,423.3 693.4,423.3 694.4,428.3 691.4,434.3 686.4,437.3 681.4,438.3 680.4,434.3 677.4,426.3Z"/>
<path class="b" d="M716.1,418.7 726.6,418.3 728.6,420.3 733.6,419.3 736.6,424.3 738.6,430.3 734.6,432.7 730.6,432.7 728.6,436.3 732.6,438.3 730.6,440.3 726.6,438.3 716.5,438.7 714.5,428.3Z"/>
<path class="b" d="M733,406.2 756.7,405.8 757.7,416.3 755.7,422.3 750.6,426.3 748.6,433.3 745.6,436.3 741.6,432.7 738.6,430.3 736.6,424.3 733.6,419.3Z"/>
<path class="r2" d="M762.7,413.8 768.7,413.2 772.7,419.3 775.7,424.3 781.7,428.3 779.7,434.3 775.7,438.3 780.7,444.3 786.8,448.4 783.7,451.4 779.7,449.4 777.7,445.4 770.7,444.3 766.7,446.4 764.7,440.3 762.7,434.3 756.7,430.3 749.6,428.3 751.6,425.9 760.7,423.3 762.7,419.3Z"/>
<path class="b" d="M775.7,419.3 779.7,415.3 780.7,409.2 788.8,408.6 789.8,411.8 800,411.8 800,420.3 790.8,421.3 782.7,422.3 778.7,424.3Z"/>
<path class="b" d="M824.5,272.4 850.2,272.4 850.6,279.1 846.2,283.1 847.2,288.1 849.2,293.1 844.2,296.1 838.2,295.1 832.2,296.1 828.2,301.1 822.1,300.1 821.1,294.1 819.1,288.1 816.1,286.1 816.5,280.1 823.1,279.1Z"/>
<path class="b" d="M880.3,274.4 884.3,273.6 887.4,277.1 891.4,280.1 890.4,286.1 892.4,292.1 891.4,297.1 887.4,299.1 882.3,297.1 876.3,297.1 872.3,294.1 872.7,288.1 868.3,285.1 869.3,281.1 875.3,279.1Z"/>
<path class="b" d="M904.4,291.1 911.4,287.1 916.5,290.1 919.5,296.1 920.1,305.2 916.5,308.2 910.4,307.2 905.4,303.1 901.4,298.1Z"/>
<path class="b" d="M908.4,310.2 916.5,308.2 920.5,308.2 928.5,307.2 930.5,314.2 929.5,322.2 931.5,325.2 926.5,330.2 920.5,326.2 916.5,329.2 910.4,328.2 906.8,322.2 908,316.2Z"/>
<path class="b" d="M955.6,274.4 973.6,274.4 973.6,298.1 962.6,299.1 963.6,308.2 967.6,313.2 966.6,316.2 956.6,317.2 954.6,322.2 946.6,323.2 937.5,321.2 935.5,310.2 934.9,299.1 944.5,298.1 944.1,291.1 946.6,287.1 954.6,285.1Z"/>
<path class="r1" d="M981.7,274.4 994.3,274.4 994.7,282.1 990.7,287.1 987.7,294.1 984.7,298.1 974.2,298.5 974.2,291.1 980.7,290.1 981.7,282.1Z"/>
<path class="b" d="M992.7,286.1 998.7,281.1 1003.7,283.1 1000.7,290.1 999.7,295.1 1002.7,299.1 998.7,304.1 992.7,306.2 991.7,314.2 986.7,316.2 980.7,315.2 976.7,313.2 977.7,309.2 982.7,305.2 984.7,298.1 987.7,294.1 990.7,287.1Z"/>
<path class="r1" d="M938.5,326.2 946.6,323.8 954.6,322.2 957.6,324.2 958.6,328.2 954.6,333.2 951.6,339.3 953,346.3 949.6,347.3 942.5,342.7 935.5,340.3 927.5,335.3 930.5,332.2 937.5,330.2Z"/>
<path class="b" d="M913.4,337.3 918.5,340.3 922.5,339.3 926.5,336.3 935.5,340.3 940.5,344.3 934.5,350.3 931.5,354.3 933.5,359.3 927.5,362.3 920.5,363.3 918.9,356.3 919.5,352.3 913.4,348.3 912.4,342.3Z"/>
<path class="r1" d="M950.6,354.3 958.6,351.3 962.6,347.9 968.6,351.3 978.7,356.3 975.7,360.3 968.6,364.3 963.6,368.4 957.6,370.4 956.2,362.3 954.6,358.3Z"/>
<path class="b" d="M978.7,336.3 983.7,329.2 990.7,335.3 999.7,330.2 1000.7,320.2 1010.8,319.2 1013.8,324.2 1008.8,332.2 1004.7,337.3 996.7,338.3 990.7,340.3 983.7,345.3 979.7,341.3Z"/>
<path class="b" d="M934.5,370.4 938.5,369.4 941.5,374.4 941.5,378.4 947.6,382.4 942.5,388.4 939.5,386 932.5,382.4 930.5,379.4 934.9,377.4Z"/>
<path class="r1" d="M849.2,307.2 855.3,303.1 857.3,298.1 860.3,302.1 866.3,302.1 867.3,307.2 865.3,312.2 864.7,320.2 860.3,321.8 855.3,320.2 854.2,313.2 849.2,310.2Z"/>
<path class="b" d="M822.1,313.2 840.2,312.6 839.8,322.2 836.2,324.2 828.2,321.2 822.1,318.2Z"/>
<path class="r1" d="M866.3,327.2 872.3,324.2 880.3,322.2 884.3,326.2 888.4,332.2 896.4,337.3 897.4,344.3 899.4,347.3 894.4,350.3 893.4,355.3 884.3,355.9 882.3,359.3 876.3,361.3 870.3,360.3 869.3,354.3 861.9,354.7 860.3,340.3 859.3,337.3 865.9,336.3Z"/>
<path class="b" d="M884.3,355.9 893.4,355.3 897.4,356.3 898.4,364.3 901.4,370.4 895.4,371.4 889.4,369.4 883.3,370.4 882.3,365.4Z"/>
<path class="r1" d="M867.3,363.3 876.3,362.7 879.3,364.3 878.3,372.4 876.3,374.4 877.3,378.4 873.3,380.4 872.3,384 868.3,383.4 865.3,380.4 858.3,378.4 857.9,373.4 864.3,372.4 865.3,366.4Z"/>
<path class="r1" d="M836.2,330.2 840.2,335.3 845.2,340.3 841.2,346.3 838.2,354.3 835.2,359.3 838.2,365.4 830.2,366.4 827.2,363.3 820.1,362.3 825.2,353.3 823.1,348.3 827.2,340.3 832.2,335.3Z"/>
<path class="r1" d="M829.2,366.4 838.2,365.4 848.2,366 848.2,372.4 845.8,375.4 846.6,382.4 838.2,384 834.2,382.4 829.2,383.4 829.8,374.4Z"/>
<path class="r2" d="M801.1,347.9 817.1,345.9 821.1,348.3 824.1,353.3 820.1,362.3 816.1,371.4 813.1,372 806.1,367.4 802.1,358.3 800.1,351.3Z"/>
<path class="b" d="M798.1,390.2 806.1,390.2 808.5,396.2 808.1,404.2 805.7,410.2 807.1,419.3 800.1,420.3 799.1,411.2 797.7,408.6Z"/>
<path class="b" d="M814.1,406.2 830.2,406 830.2,422.3 816.1,422.3 817.1,413.2 814.5,410.2Z"/>
<path class="b" d="M830.2,406 846.2,405.8 846.6,413.2 848.6,415.3 847.2,422.3 830.2,422.3Z"/>
<path class="r1" d="M868.3,413.2 893.4,414.2 892.4,417.3 887.4,426.3 880.3,429.3 874.3,426.3 872.7,421.3 869.3,417.3Z"/>
<path class="b" d="M924.5,411.2 930.5,410.2 935.5,413.2 937.5,422.3 939.5,434.3 942.5,442.3 948.6,452.4 951.6,460.4 953.6,466 946.6,466 943.5,456.4 938.5,449.4 934.5,444.3 935.5,438.3 933.5,433.3 924.5,432.7 923.5,426.3 916.5,425.9 916.5,417.3 923.5,416.3Z"/>
<path class="r1" d="M907.4,432.3 913.4,431.3 920.5,431.9 924.5,433.3 923.5,439.3 918.5,442.3 916.5,449.4 911.4,451.4 907.4,448.4 902.8,444.3 905.4,438.3Z"/>
<path class="b" d="M918.5,442.3 927.5,440.3 932.5,444.3 934.5,449.4 929.5,452.4 920.5,453.4 914.8,450.4 916.5,449.4Z"/>
<path class="b" d="M916.3,419 936.3,419 940.3,432 944.3,442.1 949.4,452.1 952.4,462.1 956,477.2 948.4,478.2 947.4,468.2 945.4,458.1 938.3,454.1 934.3,447.1 932.3,440.1 934.3,435.1 924.3,434 923.3,426 916.3,425.6Z"/>
<path class="r1" d="M929.3,452.5 934.3,448.1 938.3,454.1 945.4,458.1 947.4,468.2 948.4,481.2 942.3,481.8 938.3,474.2 933.3,469.2 928.3,466.6 926.3,460.1Z"/>
<path class="r1" d="M910.2,460.1 920.3,459.1 923.3,463.1 923.9,469.2 923.9,481.2 916.3,481.8 910.2,479.2 908.2,473.2 909.8,467.2Z"/>
<path class="b" d="M923.9,467.2 928.3,466.6 933.3,469.2 938.3,474.2 942.3,481.8 923.9,481.2Z"/>
<path class="b" d="M911.2,484.2 916.3,481.8 923.9,482.2 924.3,496.3 919.3,497.9 915.3,493.2 912.2,488.2Z"/>
<path class="b" d="M951.4,483.8 958.4,483.8 961.4,491.2 962.4,496.3 950,496.3 950.8,489.2Z"/>
<path class="r3" d="M947.4,496.3 962.4,496.3 964,504.3 962.8,516.3 960.4,528.4 957.4,533.4 949.4,536.8 947.4,532.4 946.4,514.3Z"/>
<path class="b" d="M920.3,502.3 928.3,501.3 933.3,501.9 934.3,506.7 939.3,507.3 939.9,512.3 946.4,512.7 946.4,522.7 935.3,522.7 930.3,519.3 928.3,512.3 922.3,508.3Z"/>
<path class="r1" d="M439.1,383.6 472.6,383.6 472.6,414.5 464.1,408.1 456.1,400.1 448.1,393.1 442.1,388.1Z"/>
<path class="r1" d="M567.5,470.1 581.5,469.7 582.1,472.5 593.6,472.5 593.6,490.2 580.5,490.6 579.5,486.6 574.5,479.1Z"/>
<path class="r1" d="M611.6,470.5 622.7,470.1 625.7,473.1 628.3,478.1 622.7,484.1 611.6,484.1 610.2,478.1Z"/>
<path class="b" d="M601.6,502.2 605.6,500.6 609.6,502.2 610.6,508.2 612.2,512.2 610.6,516.7 605.6,517.3 600.6,514.6 598.2,512.6 599.6,507.2Z"/>
<path class="r1" d="M612.2,511.8 617.7,510.6 623.7,510.2 624.7,516.3 626.7,519.3 621.7,522.3 617.7,520.3 613.6,517.3Z"/>
</g>
<ellipse cx="1069.1" cy="180.2" rx="2.2" ry="3.6" transform="rotate(-35 1069.1 180.2)" fill="#fff"/>
<rect x="50.1" y="453.7" width="210.3" height="119.9" fill="#e5e5e5"/>
<path d="M245.9,453.7 L245.9,557 L248,559.5 L260.4,560.5" fill="none" stroke="#9a9a9a" stroke-width="1"/>
<path d="M100.6,497.3 113.7,497.3 125.3,490.1 141.6,481.7 160.9,481.7 160.9,477 179.8,477 180.5,508.9 175.4,509.7 174.3,528.9 156.2,530 156.2,541.6 143.5,542.3 136.2,536.2 128.9,535.1 121.7,532.5 120.9,530 100.6,530Z" fill="#c62d40"/>
<rect x="57.4" y="544.5" width="149.6" height="22.5" fill="#fff" fill-opacity=".75"/>
<text x="64.3" y="562" font-size="16.6" fill="#5e5e5e" textLength="135.5" lengthAdjust="spacing" font-family="Liberation Sans, sans-serif">© Mapbox © OSM</text>
</g>
<g font-family="Liberation Sans, sans-serif" fill="#4e4e4e" stroke="#fff" stroke-width=".35">
<text x="58.1" y="429.8" font-size="24" textLength="73.7" lengthAdjust="spacing">Alaska</text>
<text x="274.7" y="606.6" font-size="23" textLength="75.5" lengthAdjust="spacing">Hawaii</text>
</g>
<rect x="1188" y="0" width="12" height="628" fill="#fff"/>
<rect x="0" y="0" width="17" height="628" fill="#fff"/>
<rect x="17" y="0" width="1" height="628" fill="#dedede"/>
<rect x="1187" y="0" width="1" height="628" fill="#dedede"/>
</svg></body></html>
